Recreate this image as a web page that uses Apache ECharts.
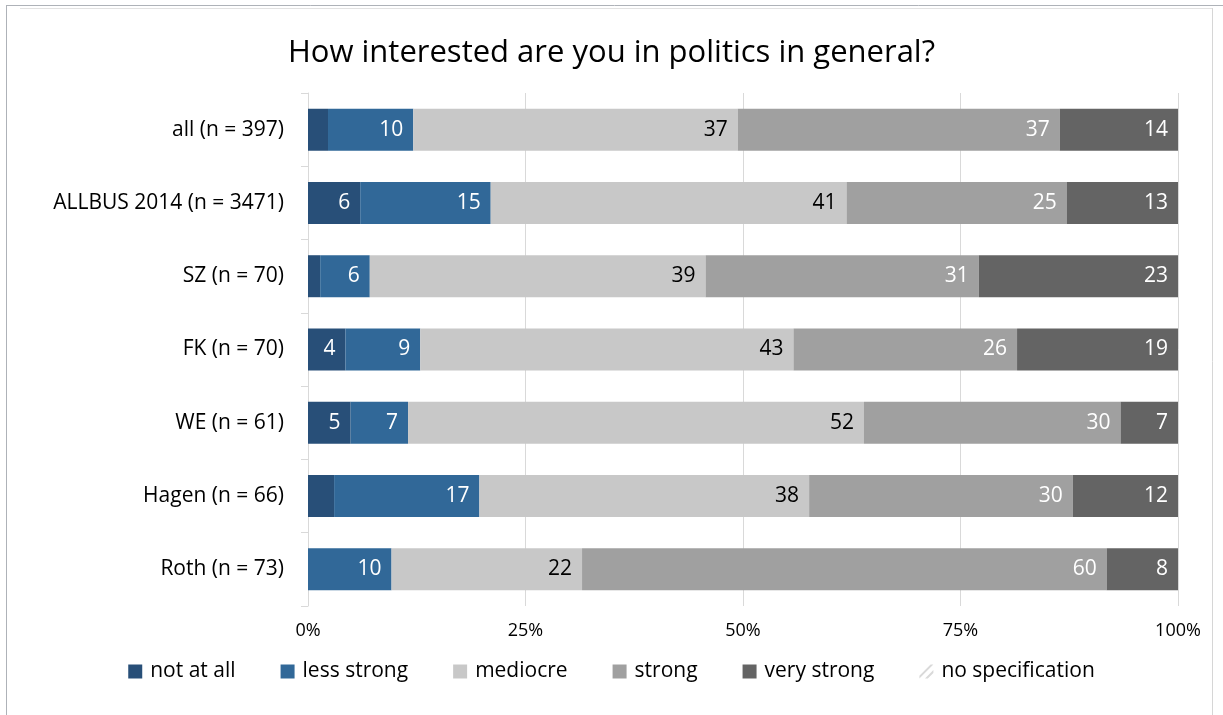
<!DOCTYPE html>
<html>
<head>
<meta charset="utf-8">
<title>How interested are you in politics in general?</title>
<script src="https://cdn.jsdelivr.net/npm/echarts@6/dist/echarts.min.js"></script>
<style>
  html, body { margin: 0; padding: 0; background: #ffffff; }
  #chart { width: 1223px; height: 715px; }
</style>
</head>
<body>
<div id="chart"></div>
<script>
// Survey groups, top to bottom
const categories = [
  'all (n = 397)',
  'ALLBUS 2014 (n = 3471)',
  'SZ (n = 70)',
  'FK (n = 70)',
  'WE (n = 61)',
  'Hagen (n = 66)',
  'Roth (n = 73)'
];

// Share of answers per group, in percent
const notAtAll        = [2.3, 6.0, 1.4, 4.3, 4.9, 3.0, 0];
const lessStrong      = [9.8, 15.0, 5.7, 8.6, 6.6, 16.7, 9.6];
const mediocre        = [37.3, 40.9, 38.6, 42.9, 52.4, 37.9, 21.9];
const strong          = [37.0, 25.3, 31.4, 25.7, 29.5, 30.3, 60.3];
const veryStrong      = [13.6, 12.8, 22.9, 18.6, 6.6, 12.1, 8.2];
const noSpecification = [0, 0, 0, 0, 0, 0, 0];

const xTicks = [0, 25, 50, 75, 100];

const FONT = '"Open Sans", Lato, sans-serif';

function barLabel(color) {
  return {
    show: true,
    position: 'insideRight',
    distance: 10,
    color: color,
    fontFamily: FONT,
    fontSize: 21,
    formatter: p => (p.value >= 3.5 ? String(Math.round(p.value)) : '')
  };
}

function makeSeries(name, data, color, labelColor) {
  return {
    name: name,
    type: 'bar',
    stack: 'total',
    barWidth: 42,
    data: data,
    itemStyle: { color: color },
    label: barLabel(labelColor),
    emphasis: { disabled: true }
  };
}

const chart = echarts.init(document.getElementById('chart'), null, { renderer: 'canvas' });

chart.setOption({
  animation: false,
  backgroundColor: '#ffffff',
  title: {
    text: 'How interested are you in politics in general?',
    left: 'center',
    top: 33,
    textStyle: { fontFamily: FONT, fontSize: 31, fontWeight: 'normal', color: '#000000' }
  },
  grid: { left: 308, right: 45, top: 93, bottom: 109, containLabel: false },
  xAxis: {
    type: 'value',
    min: xTicks[0],
    max: xTicks[xTicks.length - 1],
    interval: 25,
    axisLine: { show: false },
    axisTick: { show: false },
    splitLine: { lineStyle: { color: '#D9D9D9', width: 1 } },
    axisLabel: {
      formatter: '{value}%',
      margin: 16,
      fontFamily: FONT,
      fontSize: 18,
      color: '#000000'
    }
  },
  yAxis: {
    type: 'category',
    inverse: true,
    data: categories,
    axisLine: { show: true, lineStyle: { color: '#D9D9D9', width: 1 } },
    axisTick: { show: true, length: 7, lineStyle: { color: '#D9D9D9' } },
    axisLabel: {
      margin: 24,
      fontFamily: FONT,
      fontSize: 21,
      color: '#000000'
    }
  },
  legend: {
    bottom: 28,
    left: 'center',
    itemWidth: 14,
    itemHeight: 14,
    itemGap: 45,
    textStyle: { fontFamily: FONT, fontSize: 21, color: '#000000', padding: [0, 0, 0, 3] },
    data: [
      { name: 'not at all', icon: 'rect' },
      { name: 'less strong', icon: 'rect' },
      { name: 'mediocre', icon: 'rect' },
      { name: 'strong', icon: 'rect' },
      { name: 'very strong', icon: 'rect' },
      {
        name: 'no specification',
        icon: 'path://M0,10 L0,8 L8,0 L10,0 Z M4,10 L10,4 L10,6 L6,10 Z',
        itemStyle: { color: '#D9D9D9' }
      }
    ]
  },
  series: [
    makeSeries('not at all', notAtAll, '#284F78', '#ffffff'),
    makeSeries('less strong', lessStrong, '#316898', '#ffffff'),
    makeSeries('mediocre', mediocre, '#C8C8C8', '#000000'),
    makeSeries('strong', strong, '#A0A0A0', '#ffffff'),
    makeSeries('very strong', veryStrong, '#646464', '#ffffff'),
    makeSeries('no specification', noSpecification, '#ffffff', '#000000')
  ],
  graphic: [
    // frame around the chart area
    { type: 'line', silent: true, shape: { x1: 6, y1: 5.5, x2: 1223, y2: 5.5 }, style: { stroke: '#AEB2B8', lineWidth: 1 } },
    { type: 'line', silent: true, shape: { x1: 6.5, y1: 5, x2: 6.5, y2: 715 }, style: { stroke: '#AEB2B8', lineWidth: 1 } },
    { type: 'line', silent: true, shape: { x1: 20, y1: 8.5, x2: 1212, y2: 8.5 }, style: { stroke: '#E2E2E2', lineWidth: 1 } },
    { type: 'line', silent: true, shape: { x1: 1212.5, y1: 8, x2: 1212.5, y2: 715 }, style: { stroke: '#D6D6D6', lineWidth: 1 } }
  ]
});
</script>
</body>
</html>
